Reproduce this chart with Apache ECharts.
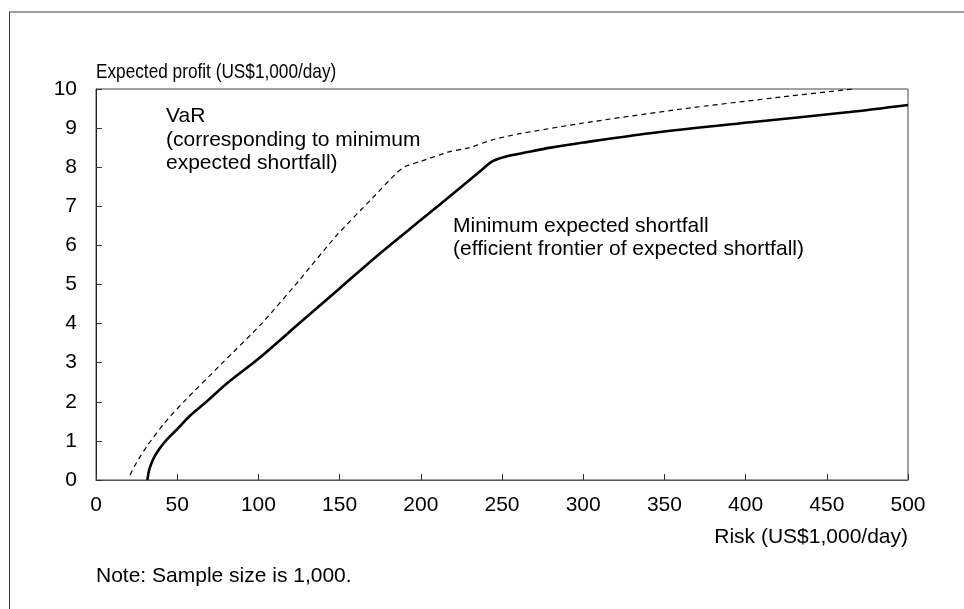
<!DOCTYPE html>
<html>
<head>
<meta charset="utf-8">
<script src="https://cdn.jsdelivr.net/npm/echarts@6/dist/echarts.min.js"></script>
<style>
  html, body { margin: 0; padding: 0; background: #fff; }
  #main { width: 964px; height: 609px; }
</style>
</head>
<body>
<div id="main"></div>
<script>
// 数据 (读自图片)
var xTicks = [0, 50, 100, 150, 200, 250, 300, 350, 400, 450, 500];
var yTicks = [0, 1, 2, 3, 4, 5, 6, 7, 8, 9, 10];

// 最小期望损失 (efficient frontier)
var esRisk   = [31.6, 33, 36, 40, 44, 50, 58, 68, 80, 100, 125, 150, 175, 200, 225, 238, 244, 252, 265, 280, 300, 341, 403, 464, 500];
var esProfit = [0, 0.3, 0.6, 0.85, 1.05, 1.3, 1.65, 2.0, 2.45, 3.1, 4.0, 4.9, 5.8, 6.65, 7.5, 7.95, 8.15, 8.27, 8.38, 8.5, 8.63, 8.87, 9.15, 9.41, 9.59];

// VaR
var varRisk   = [21, 25, 32, 42, 54, 78, 102, 125, 148, 170, 185, 191, 200, 218, 230, 244, 260, 300, 361, 423, 466];
var varProfit = [0.13, 0.45, 0.9, 1.45, 2.0, 3.0, 4.0, 5.1, 6.25, 7.2, 7.85, 8.03, 8.15, 8.4, 8.5, 8.7, 8.85, 9.13, 9.49, 9.8, 10.0];

function pairs(xs, ys) {
  return xs.map(function (x, i) { return [x, ys[i]]; });
}

var font = '"Liberation Sans", Arial, sans-serif';
var f21 = '21px ' + font;
var myChart = echarts.init(document.getElementById('main'));
var option = {
  backgroundColor: '#fff',
  animation: false,
  textStyle: { fontFamily: font },
  grid: {
    left: 96, right: 56, top: 89, bottom: 129,
    show: true, borderColor: '#444', borderWidth: 1
  },
  xAxis: {
    type: 'value',
    min: xTicks[0], max: xTicks[xTicks.length - 1], interval: 50,
    name: 'Risk (US$1,000/day)',
    nameLocation: 'end',
    nameGap: 0,
    nameTextStyle: { fontSize: 21, color: '#000', align: 'right', verticalAlign: 'top', padding: [47, 0, 0, 0], fontFamily: font },
    axisLine: { lineStyle: { color: '#555', width: 1 } },
    axisTick: { inside: true, length: 6, lineStyle: { color: '#333' } },
    axisLabel: { fontSize: 21, color: '#000', margin: 15, fontFamily: font },
    splitLine: { show: false }
  },
  yAxis: {
    type: 'value',
    min: yTicks[0], max: yTicks[yTicks.length - 1], interval: 1,
    axisLine: { lineStyle: { color: '#222', width: 1 } },
    axisTick: { inside: true, length: 6, lineStyle: { color: '#333' } },
    axisLabel: { fontSize: 21, color: '#000', margin: 19, fontFamily: font },
    splitLine: { show: false }
  },
  series: [
    {
      name: 'Minimum expected shortfall',
      type: 'line',
      data: pairs(esRisk, esProfit),
      smooth: 0.3,
      showSymbol: false,
      lineStyle: { color: '#000', width: 2.6 }
    },
    {
      name: 'VaR',
      type: 'line',
      data: pairs(varRisk, varProfit),
      smooth: 0.2,
      showSymbol: false,
      lineStyle: { color: '#000', width: 1.2, type: [5, 4] }
    }
  ],
  graphic: [
    { type: 'line', shape: { x1: 9, y1: 12, x2: 964, y2: 12 }, style: { stroke: '#808080', lineWidth: 1.5 } },
    { type: 'line', shape: { x1: 9.5, y1: 12, x2: 9.5, y2: 609 }, style: { stroke: '#333', lineWidth: 1 } },
    // y轴标题 (原图为窄体字)
    { type: 'text', x: 96, y: 72, scaleX: 0.82, style: { text: 'Expected profit (US$1,000/day)', font: f21, fill: '#000', textVerticalAlign: 'middle' } },
    { type: 'text', x: 166, y: 116, style: { text: 'VaR', font: f21, fill: '#000', textVerticalAlign: 'middle' } },
    { type: 'text', x: 166, y: 140, style: { text: '(corresponding to minimum', font: f21, fill: '#000', textVerticalAlign: 'middle' } },
    { type: 'text', x: 166, y: 163, style: { text: 'expected shortfall)', font: f21, fill: '#000', textVerticalAlign: 'middle' } },
    { type: 'text', x: 453, y: 226, style: { text: 'Minimum expected shortfall', font: f21, fill: '#000', textVerticalAlign: 'middle' } },
    { type: 'text', x: 453, y: 249, style: { text: '(efficient frontier of expected shortfall)', font: f21, fill: '#000', textVerticalAlign: 'middle' } },
    { type: 'text', x: 96, y: 576, style: { text: 'Note: Sample size is 1,000.', font: f21, fill: '#000', textVerticalAlign: 'middle' } }
  ]
};

if (option && typeof option === 'object') {
  myChart.setOption(option);
}
</script>
</body>
</html>
